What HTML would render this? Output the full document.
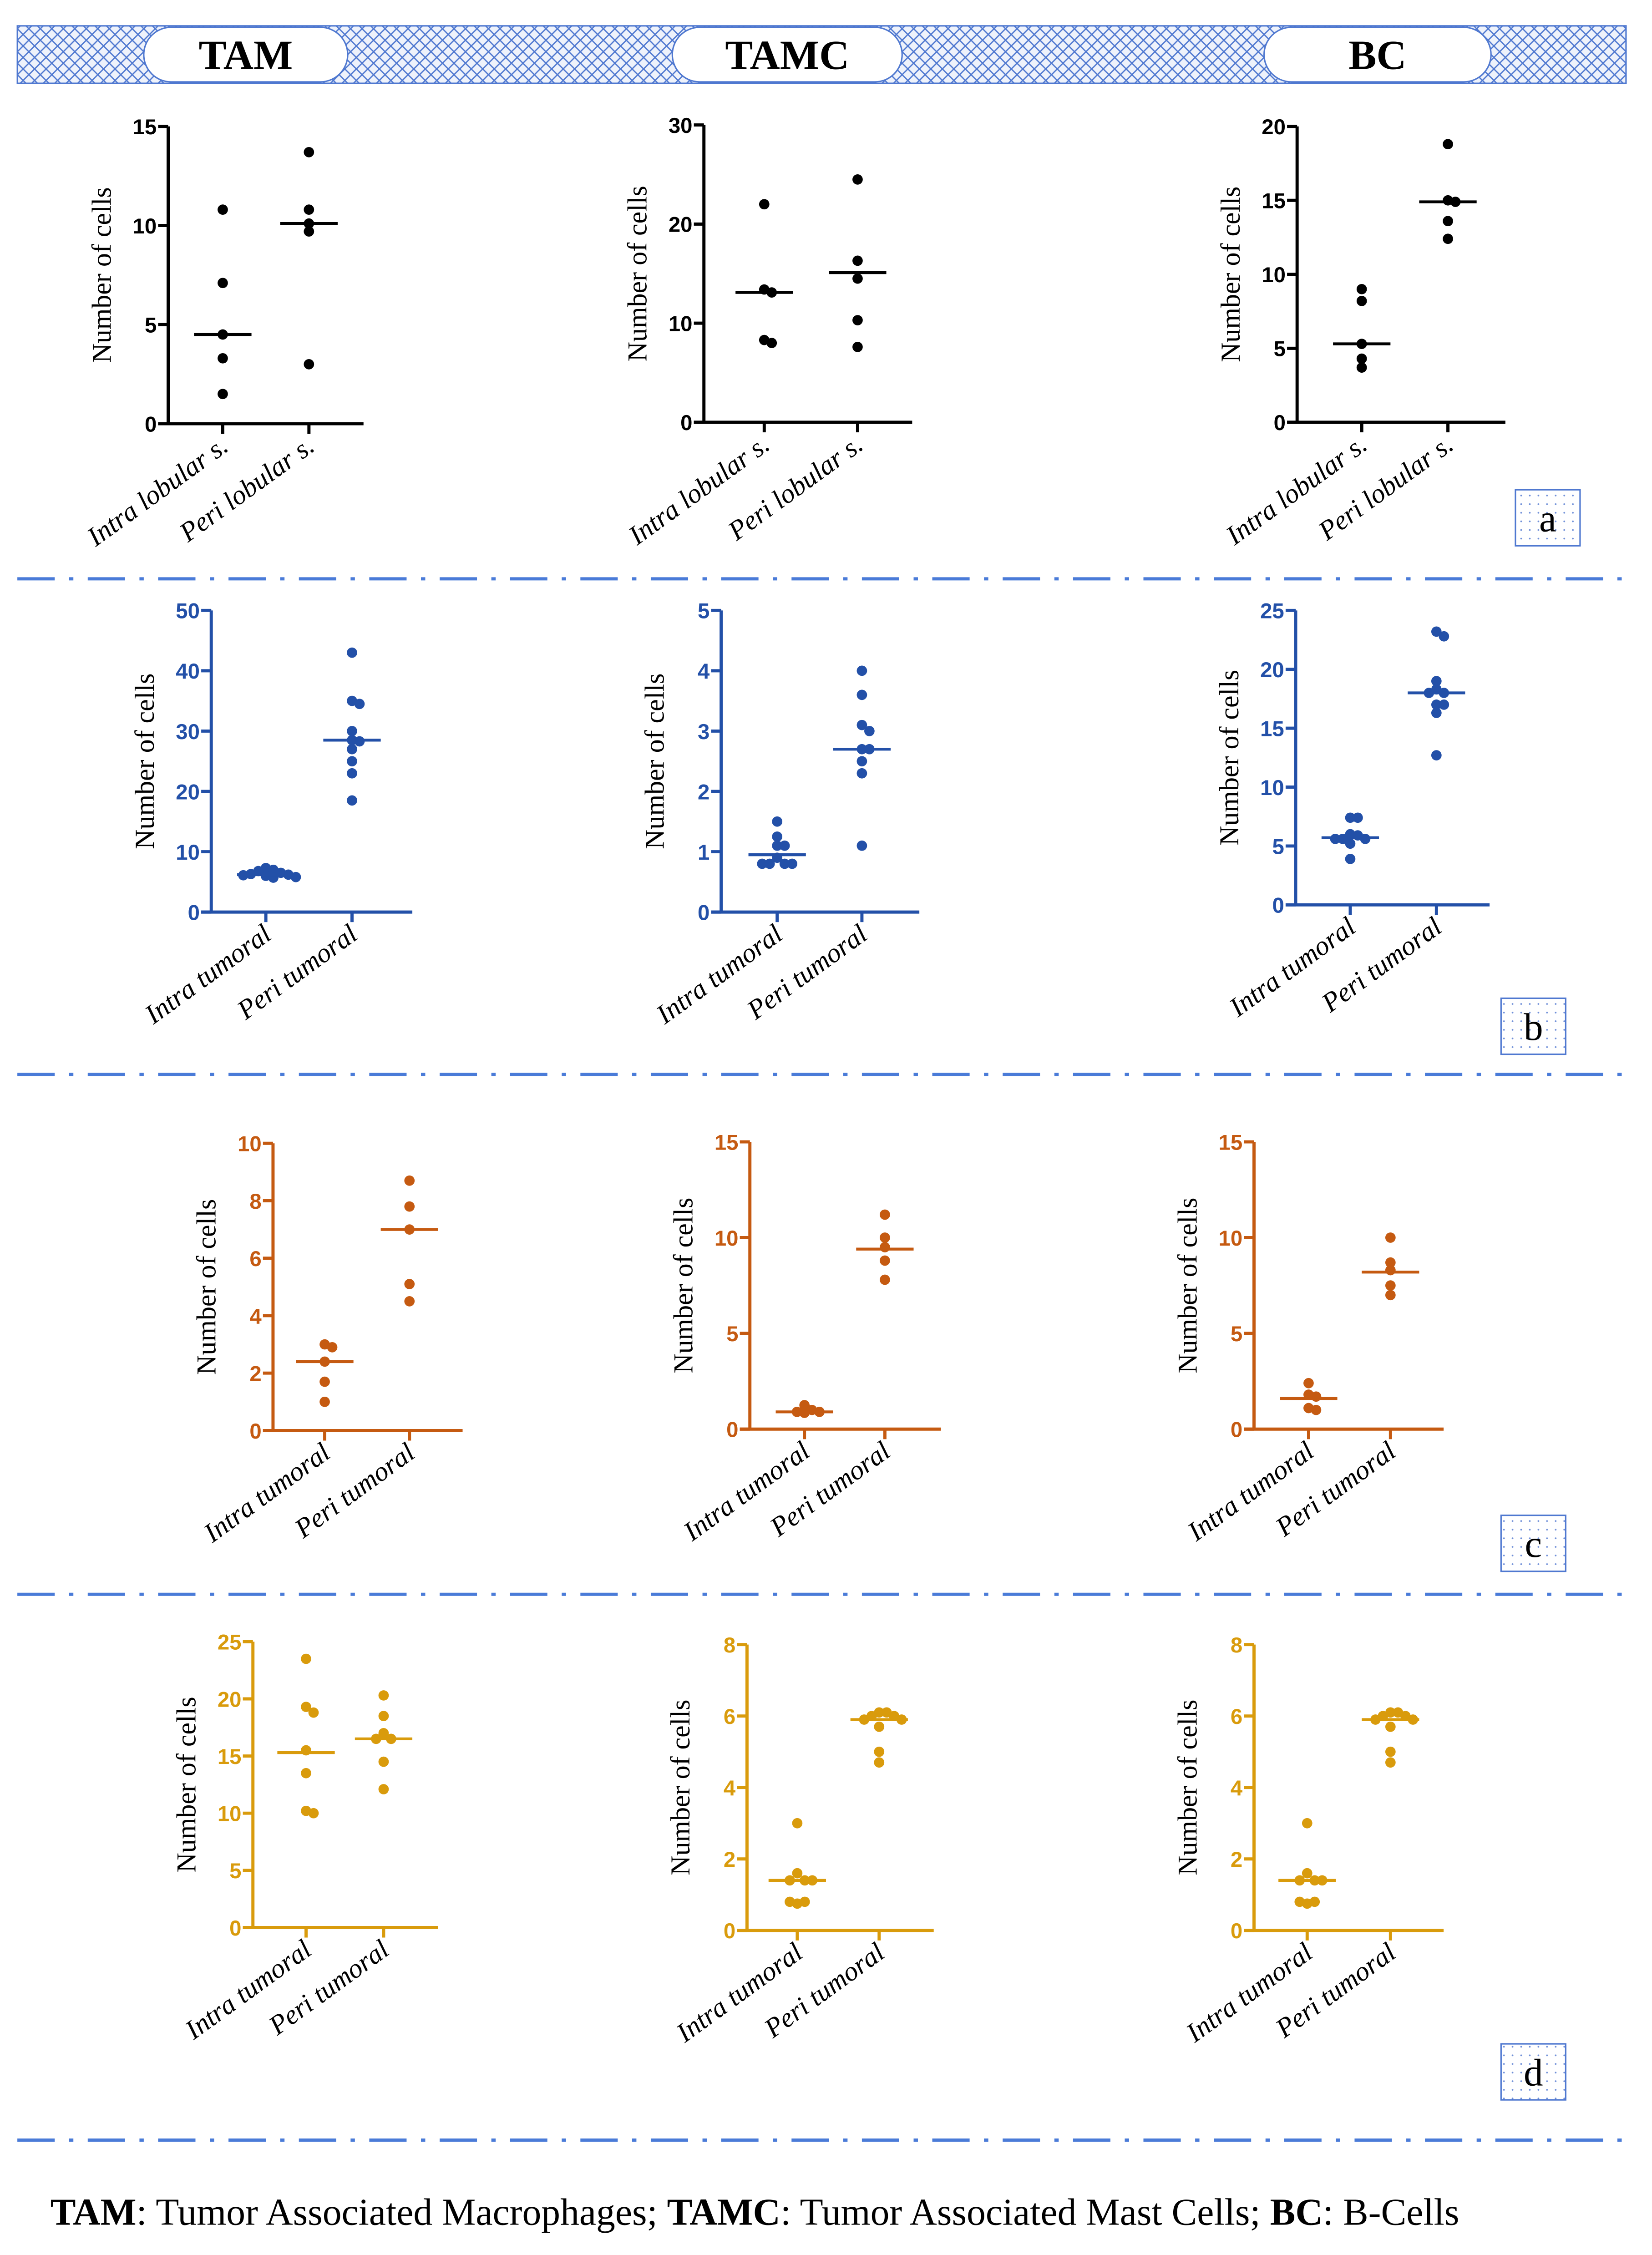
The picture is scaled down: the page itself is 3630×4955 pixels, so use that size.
<!DOCTYPE html>
<html><head><meta charset="utf-8"><style>
html,body{margin:0;padding:0;background:#fff;}
svg{display:block;}
</style></head><body>
<svg id="fig" xmlns="http://www.w3.org/2000/svg" width="3630" height="4955" viewBox="0 0 1150 1570">
<defs>
<pattern id="hatch" width="8" height="8" patternUnits="userSpaceOnUse">
<rect width="8" height="8" fill="#eef2fb"/>
<path d="M0 0L8 8M8 0L0 8" stroke="#4f78d0" stroke-width="0.9"/>
</pattern>
<pattern id="dots" width="6" height="6" patternUnits="userSpaceOnUse">
<rect width="6" height="6" fill="#fff"/>
<circle cx="3" cy="3" r="0.6" fill="#6f8fd8"/>
</pattern>
</defs>
<g>
<rect x="12" y="18" width="1120" height="40" fill="url(#hatch)" stroke="#4f78d0" stroke-width="1"/>
<rect x="100" y="19" width="142" height="38" rx="19" fill="#fff" stroke="#4f78d0" stroke-width="1"/>
<text x="171" y="48" text-anchor="middle" font-family="Liberation Serif, serif" font-weight="bold" font-size="29">TAM</text>
<rect x="468" y="19" width="160" height="38" rx="19" fill="#fff" stroke="#4f78d0" stroke-width="1"/>
<text x="548" y="48" text-anchor="middle" font-family="Liberation Serif, serif" font-weight="bold" font-size="29">TAMC</text>
<rect x="880" y="19" width="158" height="38" rx="19" fill="#fff" stroke="#4f78d0" stroke-width="1"/>
<text x="959" y="48" text-anchor="middle" font-family="Liberation Serif, serif" font-weight="bold" font-size="29">BC</text>
</g>
<g id="charts"></g>
<text x="35" y="1549" font-family="Liberation Serif, serif" font-size="26.5"><tspan font-weight="bold">TAM</tspan>: Tumor Associated Macrophages; <tspan font-weight="bold">TAMC</tspan>: Tumor Associated Mast Cells; <tspan font-weight="bold">BC</tspan>: B-Cells</text>
</svg>
<script>
// ---- data ----
const catsLobular = ["Intra lobular s.", "Peri lobular s."];
const catsTumoral = ["Intra tumoral", "Peri tumoral"];
const aTamIntra = [10.8, 7.1, 4.5, 3.3, 1.5];
const aTamPeri = [13.7, 10.8, 10.1, 9.7, 3.0];
const aTamMed = [4.5, 10.1];
const aTamcIntra = [22, 13.4, 13.1, 8.3, 8.0];
const aTamcPeri = [24.5, 16.3, 14.5, 10.3, 7.6];
const aTamcMed = [13.1, 15.1];
const aBcIntra = [9.0, 8.2, 5.3, 4.3, 3.7];
const aBcPeri = [18.8, 15.0, 14.9, 13.6, 12.4];
const aBcMed = [5.3, 14.9];
const bTamIntra = [7.3, 7.0, 6.8, 6.5, 6.3, 6.2, 6.1, 6.0, 5.8, 5.7];
const bTamPeri = [43, 35, 34.5, 30, 28.5, 28.3, 27, 25, 23, 18.5];
const bTamMed = [6.2, 28.5];
const bTamcIntra = [1.5, 1.25, 1.1, 1.1, 0.9, 0.8, 0.8, 0.8, 0.8];
const bTamcPeri = [4.0, 3.6, 3.1, 3.0, 2.7, 2.7, 2.5, 2.3, 1.1];
const bTamcMed = [0.95, 2.7];
const bBcIntra = [7.4, 7.4, 6.0, 5.9, 5.6, 5.6, 5.6, 5.2, 3.9];
const bBcPeri = [23.2, 22.8, 19.0, 18.3, 18.0, 18.0, 17.0, 17.0, 16.3, 12.7];
const bBcMed = [5.7, 18.0];
const cTamIntra = [3.0, 2.9, 2.4, 1.7, 1.0];
const cTamPeri = [8.7, 7.8, 7.0, 5.1, 4.5];
const cTamMed = [2.4, 7.0];
const cTamcIntra = [1.25, 1.0, 0.9, 0.9, 0.85];
const cTamcPeri = [11.2, 10.0, 9.5, 8.8, 7.8];
const cTamcMed = [0.9, 9.4];
const cBcIntra = [2.4, 1.8, 1.7, 1.1, 1.0];
const cBcPeri = [10.0, 8.7, 8.3, 7.5, 7.0];
const cBcMed = [1.6, 8.2];
const dTamIntra = [23.5, 19.3, 18.8, 15.5, 13.5, 10.2, 10.0];
const dTamPeri = [20.3, 18.5, 17.0, 16.5, 16.5, 14.5, 12.1];
const dTamMed = [15.3, 16.5];
const dTamcIntra = [3.0, 1.6, 1.4, 1.4, 1.4, 0.75, 0.8, 0.8];
const dTamcPeri = [6.1, 6.1, 6.0, 6.0, 5.9, 5.9, 5.7, 5.0, 4.7];
const dTamcMed = [1.4, 5.9];
const dBcIntra = [3.0, 1.6, 1.4, 1.4, 1.4, 0.75, 0.8, 0.8];
const dBcPeri = [6.1, 6.1, 6.0, 6.0, 5.9, 5.9, 5.7, 5.0, 4.7];
const dBcMed = [1.4, 5.9];
const ticksA1 = [0, 5, 10, 15], ticksA2 = [0, 10, 20, 30], ticksA3 = [0, 5, 10, 15, 20];
const ticksB1 = [0, 10, 20, 30, 40, 50], ticksB2 = [0, 1, 2, 3, 4, 5], ticksB3 = [0, 5, 10, 15, 20, 25];
const ticksC1 = [0, 2, 4, 6, 8, 10], ticksC2 = [0, 5, 10, 15], ticksC3 = [0, 5, 10, 15];
const ticksD1 = [0, 5, 10, 15, 20, 25], ticksD2 = [0, 2, 4, 6, 8], ticksD3 = [0, 2, 4, 6, 8];

const NS = "http://www.w3.org/2000/svg";
const root = document.getElementById("charts");
function mk(tag, attrs, parent) {
  const e = document.createElementNS(NS, tag);
  for (const k in attrs) e.setAttribute(k, attrs[k]);
  parent.appendChild(e);
  return e;
}
const layout = [
  {id:"a-tam", col:"#000", ax:117, top:88, bot:295, xr:253, cx:[155,215], cats:catsLobular, ticks:ticksA1, g:[aTamIntra,aTamPeri], med:aTamMed},
  {id:"a-tamc", col:"#000", ax:490, top:87, bot:294, xr:635, cx:[532,597], cats:catsLobular, ticks:ticksA2, g:[aTamcIntra,aTamcPeri], med:aTamcMed},
  {id:"a-bc", col:"#000", ax:903, top:88, bot:294, xr:1048, cx:[948,1008], cats:catsLobular, ticks:ticksA3, g:[aBcIntra,aBcPeri], med:aBcMed},
  {id:"b-tam", col:"#2350a8", ax:147, top:425, bot:635, xr:287, cx:[185,245], cats:catsTumoral, ticks:ticksB1, g:[bTamIntra,bTamPeri], med:bTamMed},
  {id:"b-tamc", col:"#2350a8", ax:502, top:425, bot:635, xr:640, cx:[541,600], cats:catsTumoral, ticks:ticksB2, g:[bTamcIntra,bTamcPeri], med:bTamcMed},
  {id:"b-bc", col:"#2350a8", ax:902, top:425, bot:630, xr:1037, cx:[940,1000], cats:catsTumoral, ticks:ticksB3, g:[bBcIntra,bBcPeri], med:bBcMed},
  {id:"c-tam", col:"#c55a11", ax:190, top:796, bot:996, xr:322, cx:[226,285], cats:catsTumoral, ticks:ticksC1, g:[cTamIntra,cTamPeri], med:cTamMed},
  {id:"c-tamc", col:"#c55a11", ax:522, top:795, bot:995, xr:655, cx:[560,616], cats:catsTumoral, ticks:ticksC2, g:[cTamcIntra,cTamcPeri], med:cTamcMed},
  {id:"c-bc", col:"#c55a11", ax:873, top:795, bot:995, xr:1005, cx:[911,968], cats:catsTumoral, ticks:ticksC3, g:[cBcIntra,cBcPeri], med:cBcMed},
  {id:"d-tam", col:"#d99b0c", ax:176, top:1143, bot:1342, xr:305, cx:[213,267], cats:catsTumoral, ticks:ticksD1, g:[dTamIntra,dTamPeri], med:dTamMed},
  {id:"d-tamc", col:"#d99b0c", ax:520, top:1145, bot:1344, xr:650, cx:[555,612], cats:catsTumoral, ticks:ticksD2, g:[dTamcIntra,dTamcPeri], med:dTamcMed},
  {id:"d-bc", col:"#d99b0c", ax:873, top:1145, bot:1344, xr:1005, cx:[910,968], cats:catsTumoral, ticks:ticksD3, g:[dBcIntra,dBcPeri], med:dBcMed}
];
const R = 3.6;
function swarm(ys) {
  const placed = [];
  const minD = 1.45 * R;
  return ys.map(y => {
    const cands = [0];
    for (let k = 1; k < 10; k++) { cands.push(k * minD); cands.push(-k * minD); }
    let dx = 0;
    for (const c of cands) {
      if (placed.every(p => Math.hypot(p[0] - c, p[1] - y) >= minD)) { dx = c; break; }
    }
    placed.push([dx, y]);
    return dx;
  });
}
layout.forEach(L => {
  const g = mk("g", {}, root);
  
  
  const maxT = L.ticks[L.ticks.length - 1];
  const yS = v => L.bot - (v / maxT) * (L.bot - L.top);
  const sw = 2.2;
  const yAx = mk("line", {x1:L.ax, y1:L.top, x2:L.ax, y2:L.bot, stroke:L.col, "stroke-width":sw}, g);
  
  
  const xAx = mk("line", {x1:L.ax - 7, y1:L.bot, x2:L.xr, y2:L.bot, stroke:L.col, "stroke-width":sw}, g);
  
  
  L.ticks.forEach(t => {
    const y = yS(t);
    mk("line", {x1:L.ax - 7, y1:y, x2:L.ax, y2:y, stroke:L.col, "stroke-width":sw}, g);
    const tl = mk("text", {x:L.ax - 8, y:y + 5.5, "text-anchor":"end", "font-family":"Liberation Sans, sans-serif", "font-weight":"bold", "font-size":"15", fill:L.col}, g);
    
    
    tl.textContent = t;
  });
  const yt = mk("text", {transform:"translate(" + (L.ax - 40) + "," + ((L.top + L.bot) / 2) + ") rotate(-90)", "text-anchor":"middle", "font-family":"Liberation Serif, serif", "font-size":"19", fill:"#000"}, g);
  
  
  yt.textContent = "Number of cells";
  L.cx.forEach((cx, i) => {
    mk("line", {x1:cx, y1:L.bot, x2:cx, y2:L.bot + 7, stroke:L.col, "stroke-width":sw}, g);
    const cl = mk("text", {transform:"translate(" + (cx + 5) + "," + (L.bot + 18) + ") rotate(-36)", "text-anchor":"end", "font-family":"Liberation Serif, serif", "font-style":"italic", "font-size":"19", fill:"#000"}, g);
    
    
    cl.textContent = L.cats[i];
    const vals = L.g[i];
    const offs = swarm(vals.map(yS));
    vals.forEach((v, j) => {
      const c = mk("circle", {cx:cx + offs[j], cy:yS(v), r:R, fill:L.col}, g);
      
      
    });
    const m = mk("line", {x1:cx - 20, y1:yS(L.med[i]), x2:cx + 20, y2:yS(L.med[i]), stroke:L.col, "stroke-width":2}, g);
    
    
  });
});
// dividers
[403, 748, 1110, 1490].forEach(y => {
  const d = mk("line", {x1:12, y1:y, x2:1132, y2:y, stroke:"#4a7bd8", "stroke-width":2.2, "stroke-dasharray":"26 10 3 10"}, root);
  
  
});
// panel labels
[["a",1055,341],["b",1045,695],["c",1045,1055],["d",1045,1423]].forEach(p => {
  const b = mk("rect", {x:p[1], y:p[2], width:45, height:39, fill:"url(#dots)", stroke:"#4f78d0", "stroke-width":1}, root);
  
  
  const t = mk("text", {x:p[1] + 22.5, y:p[2] + 29, "text-anchor":"middle", "font-family":"Liberation Serif, serif", "font-size":"27", fill:"#000"}, root);
  
  
  t.textContent = p[0];
});
</script>
</body></html>
